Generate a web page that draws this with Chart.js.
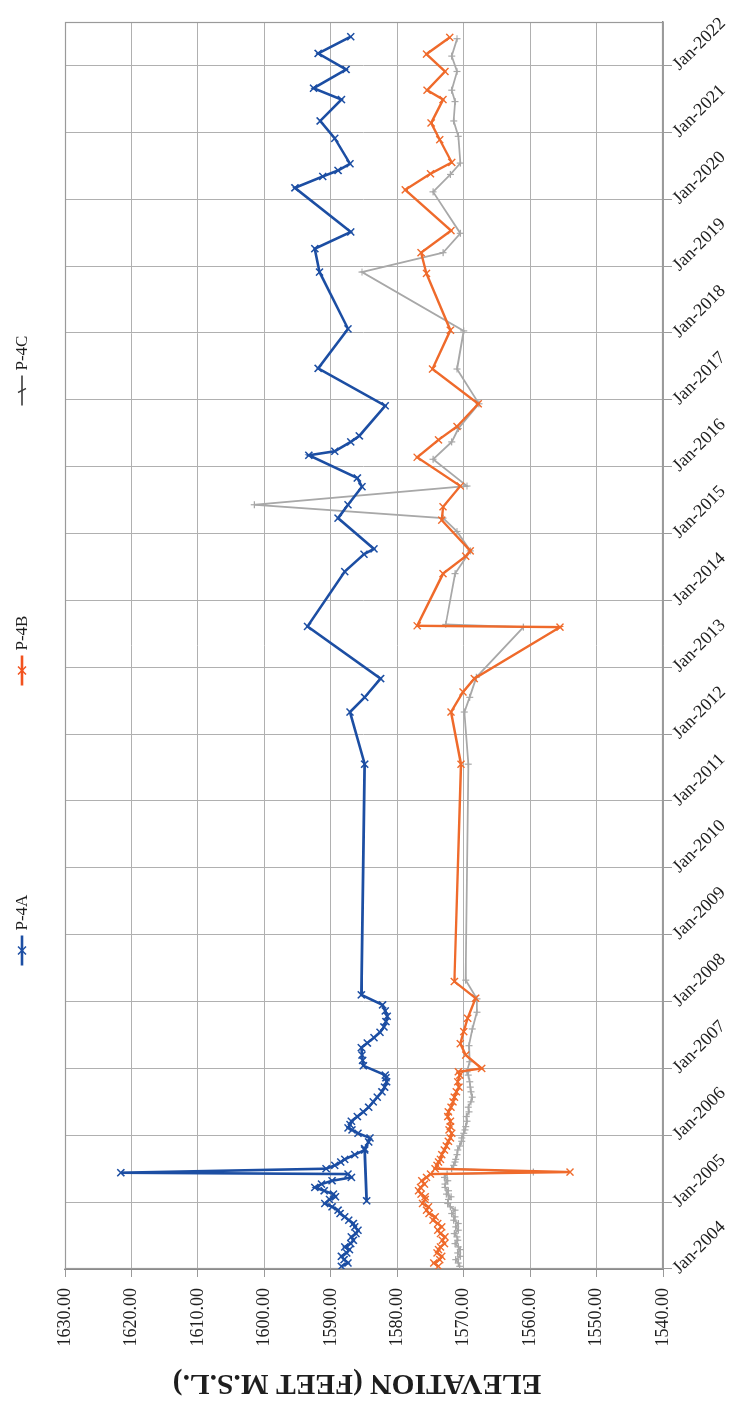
<!DOCTYPE html>
<html>
<head>
<meta charset="utf-8">
<title>P-4 Piezometer Elevations</title>
<script src="https://cdn.jsdelivr.net/npm/chart.js@4.4.1/dist/chart.umd.min.js"></script>
<style>
  html, body { margin: 0; padding: 0; background: #ffffff; overflow: hidden; }
  body { width: 734px; height: 1410px; position: relative; }
  /* The chart is laid out landscape and turned a quarter turn counter-clockwise onto the portrait page. */
  #frame {
    position: absolute; left: 0; top: 0;
    width: 1410px; height: 734px;
    transform-origin: 0 0;
    transform: translateY(1410px) rotate(-90deg);
  }
  canvas { display: block; }
</style>
</head>
<body>
<div id="frame"><canvas id="chart" width="1410" height="734"></canvas></div>
<script>
// ---- Date axis ticks (decimal years) and their labels ----
const tickYears = [2004, 2005, 2006, 2007, 2008, 2009, 2010, 2011, 2012, 2013,
                   2014, 2015, 2016, 2017, 2018, 2019, 2020, 2021, 2022];
const tickLabels = tickYears.map(y => 'Jan-' + y);

// ---- Elevation axis ticks and title ----
const elevTicks = [1540, 1550, 1560, 1570, 1580, 1590, 1600, 1610, 1620, 1630];
const elevTitle = 'ELEVATION (FEET M.S.L.)';

// ---- Series names ----
const seriesNames = ['P-4A', 'P-4B', 'P-4C'];

// ---- P-4A: sample dates (decimal years, in recorded order) and elevations ----
const p4aYears = [
  2004.04, 2004.09, 2004.14, 2004.19, 2004.24, 2004.29, 2004.33, 2004.38, 2004.43, 2004.48,
  2004.53, 2004.58, 2004.63, 2004.68, 2004.73, 2004.78, 2004.83, 2004.88, 2004.93, 2004.98,
  2005.04, 2005.08, 2005.12, 2005.17, 2005.22, 2005.27, 2005.32, 2005.37, 2005.42, 2005.44,
  2005.50, 2005.55, 2005.60, 2005.64, 2005.71, 2005.78, 2005.02, 2005.80, 2005.90, 2005.96,
  2006.03, 2006.08, 2006.11, 2006.16, 2006.21, 2006.28, 2006.35, 2006.42, 2006.50, 2006.57,
  2006.65, 2006.72, 2006.80, 2006.86, 2006.90,
  2007.04, 2007.12, 2007.20, 2007.31, 2007.38, 2007.46, 2007.54, 2007.62, 2007.70, 2007.78,
  2007.86, 2007.95,
  2008.10, 2011.55, 2012.33, 2012.55, 2012.83, 2013.61,
  2014.43, 2014.69, 2014.77, 2015.23, 2015.43, 2015.70, 2015.83,
  2016.17, 2016.23, 2016.37, 2016.46, 2016.91, 2017.47, 2018.06, 2018.91, 2019.26, 2019.51,
  2020.17, 2020.34, 2020.43, 2020.53, 2020.91, 2021.17, 2021.49, 2021.66, 2021.94, 2022.18,
  2022.43
];
const p4aElev = [
  1588.4, 1587.4, 1588.0, 1588.4, 1587.6, 1587.2, 1587.9, 1587.0, 1586.6, 1586.9,
  1586.2, 1585.9, 1586.4, 1586.6, 1587.3, 1587.9, 1588.6, 1588.9, 1589.8, 1590.9,
  1590.2, 1589.3, 1589.6, 1591.0, 1592.4, 1591.4, 1589.8, 1586.9, 1587.4, 1621.6,
  1590.7, 1589.4, 1588.5, 1587.9, 1586.4, 1584.9, 1584.6, 1584.9, 1584.3, 1584.1,
  1585.9, 1586.8, 1587.4, 1587.1, 1586.9, 1586.0, 1585.1, 1584.3, 1583.6, 1583.0,
  1582.3, 1581.9, 1581.6, 1581.7, 1581.8,
  1585.1, 1585.2, 1585.3, 1585.4, 1584.5, 1583.5, 1582.6, 1582.0, 1581.7, 1581.5,
  1581.8, 1582.2,
  1585.4, 1584.9, 1587.1, 1584.9, 1582.5, 1593.5,
  1587.9, 1585.0, 1583.5, 1588.9, 1587.4, 1585.3, 1586.0,
  1593.3, 1589.4, 1587.0, 1585.7, 1581.8, 1591.9, 1587.4, 1591.7, 1592.4, 1587.0,
  1595.4, 1591.2, 1588.9, 1587.1, 1589.4, 1591.6, 1588.4, 1592.6, 1587.7, 1591.9,
  1587.0
];

// ---- P-4B ----
const p4bYears = [
  2004.04, 2004.09, 2004.14, 2004.19, 2004.24, 2004.29, 2004.33, 2004.38, 2004.43, 2004.48,
  2004.53, 2004.58, 2004.63, 2004.68, 2004.73, 2004.78, 2004.83, 2004.88, 2004.93, 2004.98,
  2005.04, 2005.08, 2005.12, 2005.17, 2005.22, 2005.27, 2005.32, 2005.37, 2005.42, 2005.45,
  2005.50, 2005.55, 2005.60, 2005.64, 2005.71, 2005.78, 2005.84, 2005.91, 2005.96,
  2006.03, 2006.08, 2006.13, 2006.21, 2006.28, 2006.35, 2006.42, 2006.50, 2006.57, 2006.65,
  2006.72, 2006.80, 2006.90, 2006.95,
  2007.00, 2007.20, 2007.37, 2007.55, 2007.75, 2008.05, 2008.30, 2011.55, 2012.33, 2012.63,
  2012.83, 2013.60, 2013.62,
  2014.40, 2014.66, 2014.74, 2015.20, 2015.40, 2015.71, 2016.14, 2016.40, 2016.60, 2016.94,
  2017.46, 2018.04, 2018.89, 2019.20, 2019.53, 2020.14, 2020.38, 2020.55, 2020.89, 2021.14,
  2021.49, 2021.63, 2021.91, 2022.17, 2022.42
];
const p4bElev = [
  1573.8, 1574.5, 1573.6, 1573.3, 1574.0, 1573.8, 1573.5, 1572.9, 1573.2, 1572.8,
  1573.5, 1573.9, 1573.3, 1573.9, 1574.6, 1574.3, 1575.2, 1575.6, 1575.3, 1576.2,
  1575.8, 1575.8, 1576.4, 1576.8, 1576.5, 1575.9, 1576.3, 1575.6, 1575.0, 1554.0,
  1574.3, 1574.0, 1573.8, 1573.5, 1573.3, 1572.9, 1572.6, 1572.3, 1572.0,
  1571.8, 1572.2, 1572.0, 1572.0, 1572.4, 1572.3, 1571.9, 1571.6, 1571.4, 1571.1,
  1570.7, 1570.9, 1570.6, 1570.8,
  1567.3, 1569.7, 1570.5, 1570.0, 1569.4, 1568.2, 1571.4, 1570.4, 1571.9, 1570.1,
  1568.4, 1555.5, 1577.0,
  1573.1, 1569.7, 1569.0, 1573.3, 1573.1, 1570.5, 1577.0, 1573.8, 1571.0, 1567.8,
  1574.7, 1572.0, 1575.6, 1576.4, 1571.9, 1578.8, 1575.0, 1571.8, 1573.6, 1574.9,
  1573.1, 1575.5, 1572.8, 1575.6, 1572.1
];

// ---- P-4C ----
const p4cYears = [
  2004.04, 2004.09, 2004.14, 2004.19, 2004.24, 2004.29, 2004.33, 2004.38, 2004.43, 2004.48,
  2004.53, 2004.58, 2004.63, 2004.68, 2004.73, 2004.78, 2004.83, 2004.88, 2004.93, 2004.98,
  2005.04, 2005.08, 2005.12, 2005.17, 2005.22, 2005.27, 2005.32, 2005.37, 2005.42, 2005.45,
  2005.50, 2005.55, 2005.60, 2005.64, 2005.71, 2005.78, 2005.84, 2005.91, 2005.96,
  2006.03, 2006.08, 2006.13, 2006.21, 2006.28, 2006.35, 2006.42, 2006.50, 2006.57, 2006.65,
  2006.72, 2006.80, 2006.90, 2006.95,
  2007.10, 2007.34, 2007.59, 2007.84, 2008.04, 2008.32, 2011.55, 2012.33, 2012.55, 2012.85,
  2013.60, 2013.64,
  2014.40, 2014.74, 2015.03, 2015.23, 2015.43, 2015.71, 2016.11, 2016.37, 2016.57, 2016.94,
  2017.46, 2018.03, 2018.91, 2019.20, 2019.49, 2020.11, 2020.37, 2020.54, 2020.94, 2021.17,
  2021.46, 2021.63, 2021.91, 2022.14, 2022.40
];
const p4cElev = [
  1570.6, 1570.8, 1571.2, 1570.5, 1570.9, 1570.5, 1570.8, 1571.3, 1570.9, 1571.0,
  1571.4, 1570.8, 1571.2, 1570.8, 1571.5, 1571.3, 1571.8, 1571.3, 1572.0, 1572.4,
  1572.3, 1571.9, 1572.6, 1572.3, 1572.8, 1572.8, 1572.4, 1572.9, 1572.5, 1559.5,
  1571.8, 1571.5, 1571.3, 1571.2, 1571.0, 1570.9, 1570.6, 1570.3, 1570.3,
  1570.0, 1569.8, 1569.7, 1569.5, 1569.6, 1569.2, 1569.3, 1568.9, 1568.7, 1568.9,
  1569.0, 1569.1, 1569.3, 1569.5,
  1569.1, 1569.2, 1568.7, 1568.0, 1568.0, 1569.7, 1569.3, 1569.9, 1569.1, 1568.1,
  1561.0, 1572.7,
  1571.3, 1569.0, 1571.0, 1573.1, 1601.5, 1569.5, 1574.6, 1571.8, 1570.8, 1567.7,
  1571.0, 1570.0, 1585.3, 1573.1, 1570.5, 1574.6, 1572.0, 1570.5, 1570.8, 1571.5,
  1571.3, 1571.8, 1571.0, 1571.8, 1571.0
];

// ---- Styling ----
const SERIF = '"Liberation Serif", "Times New Roman", serif';
const lineColors = ['#1c4ea3', '#ef6a2b', '#a8a8a8'];
const keyColors = ['#1c4ea3', '#f2521e', '#3a3a3a'];
const gridColor = '#b0b0b0';
const textColor = '#1e1e1e';

function pairUp(xs, ys) {
  return xs.map((x, i) => ({ x: x, y: ys[i] }));
}

const datasets = [
  {
    label: seriesNames[0], data: pairUp(p4aYears, p4aElev),
    borderColor: lineColors[0], backgroundColor: lineColors[0],
    borderWidth: 2.6, pointStyle: 'crossRot', pointRadius: 5,
    pointBorderWidth: 1.5, pointBorderColor: lineColors[0]
  },
  {
    label: seriesNames[1], data: pairUp(p4bYears, p4bElev),
    borderColor: lineColors[1], backgroundColor: lineColors[1],
    borderWidth: 2.4, pointStyle: 'crossRot', pointRadius: 5,
    pointBorderWidth: 1.4, pointBorderColor: lineColors[1]
  },
  {
    label: seriesNames[2], data: pairUp(p4cYears, p4cElev),
    borderColor: lineColors[2], backgroundColor: lineColors[2],
    borderWidth: 1.8, pointStyle: 'cross', pointRadius: 3.5,
    pointBorderWidth: 1.2, pointBorderColor: lineColors[2]
  }
];

// Outline of the plotting area (all four sides)
const plotFrame = {
  id: 'plotFrame',
  beforeDatasetsDraw(chart) {
    const { ctx, chartArea: a } = chart;
    ctx.save();
    ctx.strokeStyle = '#9a9a9a';
    ctx.lineWidth = 1.2;
    ctx.strokeRect(a.left + 0.5, a.top + 0.5, a.right - a.left - 1, a.bottom - a.top - 1);
    ctx.restore();
  }
};

// Slanted month-year labels under the date axis, running down and to the right of each tick
const dateLabels = {
  id: 'dateLabels',
  afterDraw(chart) {
    const { ctx, chartArea: a } = chart;
    const xs = chart.scales.x;
    ctx.save();
    ctx.font = '18px ' + SERIF;
    ctx.fillStyle = textColor;
    ctx.textAlign = 'left';
    ctx.textBaseline = 'middle';
    tickYears.forEach((yr, i) => {
      const px = xs.getPixelForValue(yr);
      ctx.save();
      ctx.translate(px - 2, a.bottom + 13);
      ctx.rotate(Math.PI / 4);
      ctx.fillText(tickLabels[i], 0, 0);
      ctx.restore();
    });
    ctx.restore();
  }
};

// Elevation axis title, set sideways along the left margin
const elevAxisTitle = {
  id: 'elevAxisTitle',
  afterDraw(chart) {
    const { ctx, chartArea: a } = chart;
    const cy = (a.top + a.bottom) / 2 - 7;
    ctx.save();
    ctx.translate(27, cy);
    ctx.rotate(-Math.PI / 2);
    ctx.font = 'bold 29.5px ' + SERIF;
    ctx.fillStyle = textColor;
    ctx.textAlign = 'center';
    ctx.textBaseline = 'middle';
    ctx.fillText(elevTitle, 0, 0);
    ctx.restore();
  }
};

// Series key along the top edge: a short line with its marker, then the name
const seriesKey = {
  id: 'seriesKey',
  afterDraw(chart) {
    const { ctx, chartArea: a } = chart;
    const cx = (a.left + a.right) / 2;
    const y = 22;
    ctx.save();
    ctx.font = '17px ' + SERIF;
    ctx.textAlign = 'left';
    ctx.textBaseline = 'middle';
    chart.data.datasets.forEach((ds, i) => {
      const x0 = cx + (i - 1) * 280 - 40;
      const col = keyColors[i];
      ctx.strokeStyle = col;
      ctx.lineWidth = i === 2 ? 1.6 : 2.6;
      ctx.beginPath();
      ctx.moveTo(x0, y);
      ctx.lineTo(x0 + 30, y);
      ctx.stroke();
      const mx = x0 + 15;
      ctx.lineWidth = 1.5;
      ctx.beginPath();
      if (i === 2) {
        ctx.moveTo(mx - 2, y - 4); ctx.lineTo(mx + 2, y + 4);
      } else {
        ctx.moveTo(mx - 4, y - 4); ctx.lineTo(mx + 4, y + 4);
        ctx.moveTo(mx - 4, y + 4); ctx.lineTo(mx + 4, y - 4);
      }
      ctx.stroke();
      ctx.fillStyle = textColor;
      ctx.fillText(ds.label, x0 + 35, y + 1);
    });
    ctx.restore();
  }
};

new Chart(document.getElementById('chart'), {
  type: 'line',
  data: { datasets: datasets },
  plugins: [plotFrame, dateLabels, elevAxisTitle, seriesKey],
  options: {
    responsive: false,
    devicePixelRatio: 1,
    animation: false,
    events: [],
    layout: { padding: { top: 65, right: 22, left: 0, bottom: 0 } },
    elements: { line: { tension: 0, fill: false } },
    plugins: {
      legend: { display: false },
      tooltip: { enabled: false },
      title: { display: false }
    },
    scales: {
      x: {
        type: 'linear',
        min: 2004,
        max: 2022.65,
        afterBuildTicks(scale) { scale.ticks = tickYears.map(v => ({ value: v })); },
        afterFit(scale) { scale.height = 71; },
        ticks: { display: false },
        grid: { color: gridColor, lineWidth: 1, tickLength: 9, tickColor: '#9a9a9a' },
        border: { color: '#8a8a8a', width: 1.4 }
      },
      y: {
        type: 'linear',
        min: 1540,
        max: 1630,
        afterBuildTicks(scale) { scale.ticks = elevTicks.map(v => ({ value: v })); },
        afterFit(scale) { scale.width = 141; },
        ticks: {
          padding: 11,
          color: textColor,
          font: { family: SERIF, size: 18 },
          callback: v => Number(v).toFixed(2)
        },
        grid: { color: gridColor, lineWidth: 1, tickLength: 8, tickColor: '#9a9a9a' },
        border: { color: '#8a8a8a', width: 1.4 }
      }
    }
  }
});
</script>
</body>
</html>
